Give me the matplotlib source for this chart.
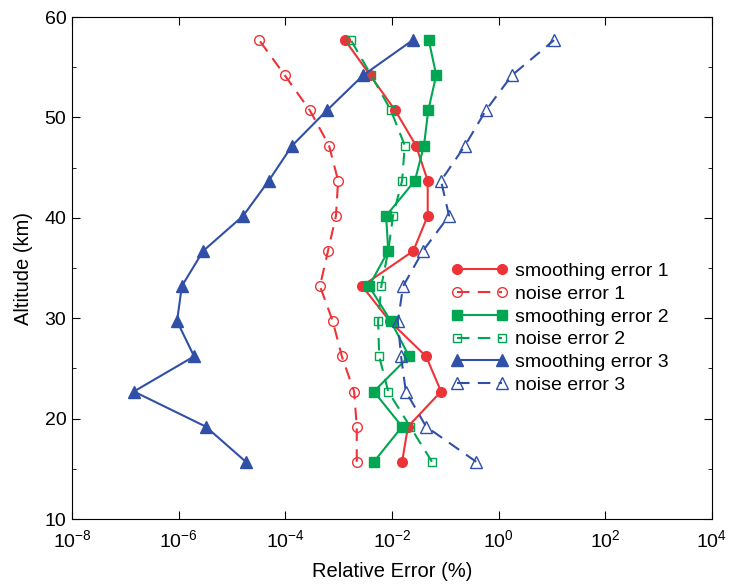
import numpy as np
import matplotlib
matplotlib.use('Agg')
import matplotlib.pyplot as plt
from matplotlib.ticker import LogLocator, MultipleLocator, NullLocator

plt.rcParams['font.family'] = ['Liberation Sans', 'DejaVu Sans']
plt.rcParams['mathtext.default'] = 'regular'
plt.rcParams['axes.unicode_minus'] = False

# Altitud (km)
alt = np.array([15.7, 19.2, 22.7, 26.2, 29.7, 33.2, 36.7, 40.2, 43.7, 47.2, 50.7, 54.2, 57.7])

# log10 del error relativo (%), de abajo hacia arriba
smooth1_log = np.array([-1.81, -1.70, -1.08, -1.36, -2.04, -2.56, -1.60, -1.33, -1.33, -1.55, -1.94, -2.41, -2.88])
noise1_log = np.array([-2.66, -2.66, -2.71, -2.94, -3.11, -3.35, -3.20, -3.05, -3.01, -3.18, -3.54, -4.01, -4.49])
smooth2_log = np.array([-2.34, -1.81, -2.34, -1.68, -2.02, -2.43, -2.07, -2.11, -1.57, -1.40, -1.32, -1.17, -1.31])
noise2_log = np.array([-1.25, -1.66, -2.07, -2.24, -2.26, -2.20, -2.07, -1.98, -1.81, -1.76, -2.02, -2.39, -2.77])
smooth3_log = np.array([-4.74, -5.49, -6.84, -5.71, -6.03, -5.94, -5.54, -4.79, -4.31, -3.87, -3.22, -2.54, -1.61])
noise3_log = np.array([-0.42, -1.36, -1.74, -1.83, -1.89, -1.79, -1.42, -0.93, -1.08, -0.63, -0.24, 0.25, 1.04])

red = '#EE3338'
green = '#00A651'
blue = '#3050A8'

fig = plt.figure(figsize=(7.3, 5.85), dpi=100)
ax = fig.add_axes([0.0986, 0.1128, 0.8767, 0.8581])

ax.plot(10**smooth1_log, alt, '-o', color=red, lw=1.5, ms=7, label='smoothing error 1')
ax.plot(10**noise1_log, alt, '--o', color=red, lw=1.5, ms=7, mfc='none', dashes=(6, 4),
        label='noise error 1')
ax.plot(10**smooth2_log, alt, '-s', color=green, lw=1.5, ms=6.5, label='smoothing error 2')
ax.plot(10**noise2_log, alt, '--s', color=green, lw=1.5, ms=6, mfc='none', dashes=(6, 4),
        label='noise error 2')
ax.plot(10**smooth3_log, alt, '-^', color=blue, lw=1.5, ms=8, label='smoothing error 3')
ax.plot(10**noise3_log, alt, '--^', color=blue, lw=1.5, ms=8, mfc='none', dashes=(6, 4),
        label='noise error 3')

ax.set_xscale('log')
ax.set_xlim(1e-8, 1e4)
ax.set_ylim(10, 60)
ax.xaxis.set_major_locator(LogLocator(base=100.0, numticks=10))
ax.xaxis.set_minor_locator(NullLocator())
ax.yaxis.set_major_locator(MultipleLocator(10))
ax.yaxis.set_minor_locator(MultipleLocator(5))
ax.tick_params(which='both', direction='in', top=True, right=True, labelsize=14)
ax.tick_params(which='major', length=6)
ax.tick_params(which='minor', length=3)
ax.tick_params(axis='x', pad=7)
ax.tick_params(axis='y', pad=4)

ax.set_xlabel('Relative Error (%)', fontsize=14.5, labelpad=8)
ax.set_ylabel('Altitude (km)', fontsize=14.5, labelpad=8)

ax.legend(loc='upper left', bbox_to_anchor=(0.58, 0.527), frameon=False, fontsize=14,
          handlelength=2.9, labelspacing=0.27, handletextpad=0.4, borderaxespad=0,
          numpoints=2)

plt.savefig('out.png', dpi=100)
